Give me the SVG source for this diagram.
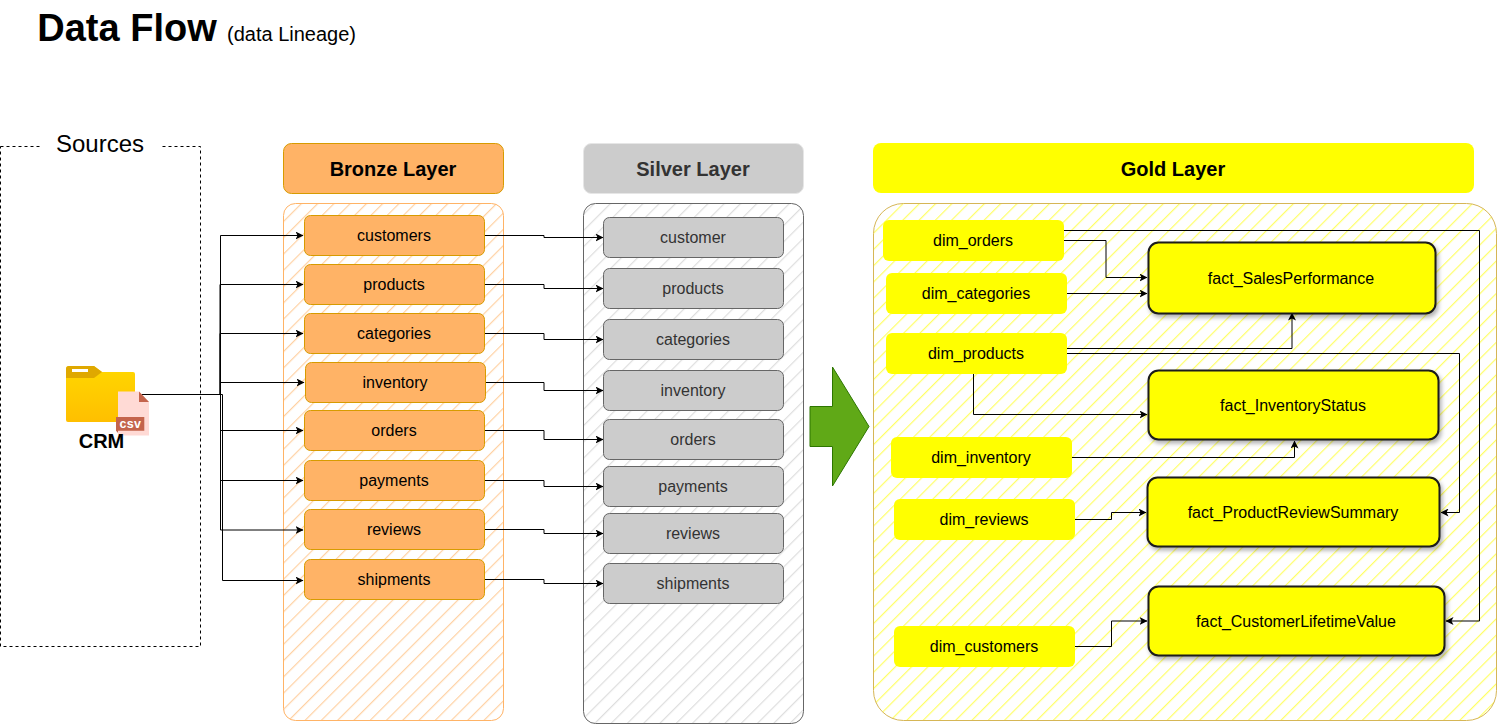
<svg xmlns="http://www.w3.org/2000/svg" width="1498" height="724" viewBox="0 0 1498 724">
<style>
text{font-family:"Liberation Sans",Arial,sans-serif;text-anchor:middle;fill:#000}
.t{font-size:16px}
.h{font-size:20px;font-weight:bold}
.b{fill:#ffb366;stroke:#d79b00;stroke-width:1}
.s{fill:#cccccc;stroke:#666666;stroke-width:1}
.g{fill:#ffff00}
.f{fill:#ffff00;stroke:#1a1a1a;stroke-width:2;filter:url(#sh)}
.c{fill:none;stroke:#000;stroke-width:1;marker-end:url(#a)}
</style>
<defs>
<marker id="a" viewBox="0 0 8 8" refX="7.5" refY="4" markerWidth="8" markerHeight="8" markerUnits="userSpaceOnUse" orient="auto"><path d="M0 0L8 4L0 8L2 4Z" fill="#000"/></marker>
<pattern id="hb" width="11.5" height="11.5" patternUnits="userSpaceOnUse" patternTransform="rotate(-45)"><rect width="11.5" height="1.2" fill="#ffb366" opacity=".6"/></pattern>
<pattern id="hs" width="11.5" height="11.5" patternUnits="userSpaceOnUse" patternTransform="rotate(-45)"><rect width="11.5" height="1.2" fill="#cccccc" opacity=".65"/></pattern>
<pattern id="hg" width="11.5" height="11.5" patternUnits="userSpaceOnUse" patternTransform="rotate(-45)"><rect width="11.5" height="1.2" fill="#ffff00" opacity=".6"/></pattern>
<filter id="sh" x="-5%" y="-10%" width="110%" height="125%"><feDropShadow dx="2" dy="3" stdDeviation="2" flood-color="#000" flood-opacity=".3"/></filter>
<linearGradient id="fo" x1="0" y1="0" x2="0" y2="1"><stop offset="0" stop-color="#ffd700"/><stop offset="1" stop-color="#ffbf00"/></linearGradient>
</defs>
<rect width="1498" height="724" fill="#fff"/>
<text x="127" y="41" style="font-size:38px;font-weight:bold">Data Flow</text>
<text x="291.500" y="41" style="font-size:20px">(data Lineage)</text>

<g id="sources">
<rect x="0.500" y="146.500" width="200" height="500" fill="none" stroke="#000" stroke-dasharray="3 3"/>
<rect x="40" y="130" width="122" height="30" fill="#fff"/>
<text x="100" y="152" style="font-size:24px">Sources</text>
</g>

<g id="bronze-container"><rect x="283.500" y="203.500" width="220" height="517" rx="12" fill="url(#hb)" stroke="#ffb366"/></g>
<g id="silver-container"><rect x="583.500" y="203.500" width="220" height="520" rx="12" fill="url(#hs)" stroke="#666"/></g>
<g id="gold-container"><rect x="873.500" y="203.500" width="623" height="517" rx="30" fill="url(#hg)" stroke="#d6b656"/></g>

<g id="bronze-header"><rect class="b" x="283.500" y="143.500" width="220" height="50" rx="8"/><text class="h" x="393" y="176">Bronze Layer</text></g>
<g id="silver-header"><rect x="583.500" y="143.500" width="220" height="50" rx="8" fill="#cccccc" stroke="#e6e6e6"/><text class="h" x="693" y="176" style="fill:#333">Silver Layer</text></g>
<g id="gold-header"><rect class="g" x="873" y="143" width="601" height="50" rx="8"/><text class="h" x="1173" y="176">Gold Layer</text></g>

<g id="connectors">
<path d="M140 394.500H220.500V235.500H303" class="c"/>
<path d="M220 394.500V284.500H303" class="c"/>
<path d="M220 394.500V333.500H303" class="c"/>
<path d="M220.500 394.500V382.500H304" class="c"/>
<path d="M220.500 394.500V430.500H303" class="c"/>
<path d="M220.500 394.500V480.500H303" class="c"/>
<path d="M220.500 394.500V530H303" class="c"/>
<path d="M140 394.500H222.500V580.500H303" class="c"/>
<path d="M485 235.500H544V237.500H603" class="c"/>
<path d="M485 284.500H544V288.500H603" class="c"/>
<path d="M485 333.500H544V339.500H603" class="c"/>
<path d="M486 382.500H544V390.500H603" class="c"/>
<path d="M485 430.500H544V439.500H603" class="c"/>
<path d="M485 480.500H544V486.500H603" class="c"/>
<path d="M485 529.500H544V533.500H603" class="c"/>
<path d="M485 579.500H544V583.500H603" class="c"/>
<path d="M1063 240.500H1106V277.500H1147" class="c"/>
<path d="M1063 230.500H1479.500V621H1446" class="c"/>
<path d="M1067 293.500H1147" class="c"/>
<path d="M1067 348.500H1292V313" class="c"/>
<path d="M1067 353.500H1459.500V512.500H1441" class="c"/>
<path d="M973.500 374V414.500H1147" class="c"/>
<path d="M1072 457.500H1294.500V441" class="c"/>
<path d="M1075 519.500H1111.500V512.500H1146" class="c"/>
<path d="M1075 646.500H1111.500V621H1147" class="c"/>
</g>

<g id="crm">
<path d="M66 369a3 3 0 0 1 3-3H94L102 372H133a2 2 0 0 1 2 2V420a2 2 0 0 1-2 2H68a2 2 0 0 1-2-2Z" fill="url(#fo)"/>
<path d="M66 369a3 3 0 0 1 3-3H94L102 372L94 378H66Z" fill="#dfa800"/>
<rect x="72" y="369" width="16" height="3" fill="#fff"/>
<path d="M118 391.500H139L149 402V435.500H118Z" fill="#ffdad5"/>
<path d="M139 391.500L149 402H139Z" fill="#c4644c"/>
<path d="M116 417H144.300V430.700H118V433L116 430.700Z" fill="#c4644c"/>
<text x="130.300" y="428" style="font-size:12.500px;font-weight:bold;fill:#fff;letter-spacing:.3px">csv</text>
<text x="101.500" y="448" style="font-size:20px;font-weight:bold">CRM</text>
</g>

<g id="b1"><rect class="b" x="304.500" y="215.500" width="180" height="40" rx="6"/><text class="t" x="394" y="241">customers</text></g>
<g id="b2"><rect class="b" x="304.500" y="264.500" width="180" height="40" rx="6"/><text class="t" x="394" y="290">products</text></g>
<g id="b3"><rect class="b" x="304.500" y="313.500" width="180" height="40" rx="6"/><text class="t" x="394" y="339">categories</text></g>
<g id="b4"><rect class="b" x="305.500" y="362.500" width="180" height="40" rx="6"/><text class="t" x="395" y="388">inventory</text></g>
<g id="b5"><rect class="b" x="304.500" y="410.500" width="180" height="40" rx="6"/><text class="t" x="394" y="436">orders</text></g>
<g id="b6"><rect class="b" x="304.500" y="460.500" width="180" height="40" rx="6"/><text class="t" x="394" y="486">payments</text></g>
<g id="b7"><rect class="b" x="304.500" y="509.500" width="180" height="40" rx="6"/><text class="t" x="394" y="535">reviews</text></g>
<g id="b8"><rect class="b" x="304.500" y="559.500" width="180" height="40" rx="6"/><text class="t" x="394" y="585">shipments</text></g>

<g id="s1"><rect class="s" x="603.500" y="217.500" width="180" height="40" rx="6"/><text class="t" x="693" y="243" style="fill:#333">customer</text></g>
<g id="s2"><rect class="s" x="603.500" y="268.500" width="180" height="40" rx="6"/><text class="t" x="693" y="294" style="fill:#333">products</text></g>
<g id="s3"><rect class="s" x="603.500" y="319.500" width="180" height="40" rx="6"/><text class="t" x="693" y="345" style="fill:#333">categories</text></g>
<g id="s4"><rect class="s" x="603.500" y="370.500" width="180" height="40" rx="6"/><text class="t" x="693" y="396" style="fill:#333">inventory</text></g>
<g id="s5"><rect class="s" x="603.500" y="419.500" width="180" height="40" rx="6"/><text class="t" x="693" y="445" style="fill:#333">orders</text></g>
<g id="s6"><rect class="s" x="603.500" y="466.500" width="180" height="40" rx="6"/><text class="t" x="693" y="492" style="fill:#333">payments</text></g>
<g id="s7"><rect class="s" x="603.500" y="513.500" width="180" height="40" rx="6"/><text class="t" x="693" y="539" style="fill:#333">reviews</text></g>
<g id="s8"><rect class="s" x="603.500" y="563.500" width="180" height="40" rx="6"/><text class="t" x="693" y="589" style="fill:#333">shipments</text></g>

<g id="arrow"><path d="M810 406.500H832.500V367L869 426.500L832.500 486V446.500H810Z" fill="#60a917" stroke="#2d7600"/></g>

<g id="dim_orders"><rect class="g" x="883" y="220" width="181" height="41" rx="6"/><text class="t" x="973" y="246">dim_orders</text></g>
<g id="dim_categories"><rect class="g" x="886" y="273" width="181" height="41" rx="6"/><text class="t" x="976" y="299">dim_categories</text></g>
<g id="dim_products"><rect class="g" x="886" y="333" width="181" height="41" rx="6"/><text class="t" x="976" y="359">dim_products</text></g>
<g id="dim_inventory"><rect class="g" x="891" y="437" width="181" height="41" rx="6"/><text class="t" x="981" y="463">dim_inventory</text></g>
<g id="dim_reviews"><rect class="g" x="894" y="499" width="181" height="41" rx="6"/><text class="t" x="984" y="525">dim_reviews</text></g>
<g id="dim_customers"><rect class="g" x="894" y="626" width="181" height="41" rx="6"/><text class="t" x="984" y="652">dim_customers</text></g>

<g id="fact_SalesPerformance"><rect class="f" x="1148.500" y="242.500" width="287" height="71" rx="10"/><text class="t" x="1291" y="284">fact_SalesPerformance</text></g>
<g id="fact_InventoryStatus"><rect class="f" x="1148.500" y="370.500" width="290" height="69" rx="10"/><text class="t" x="1293" y="411">fact_InventoryStatus</text></g>
<g id="fact_ProductReviewSummary"><rect class="f" x="1147.500" y="477.500" width="292" height="69" rx="10"/><text class="t" x="1293" y="518">fact_ProductReviewSummary</text></g>
<g id="fact_CustomerLifetimeValue"><rect class="f" x="1148.500" y="586.500" width="296" height="69" rx="10"/><text class="t" x="1296" y="627">fact_CustomerLifetimeValue</text></g>
</svg>
